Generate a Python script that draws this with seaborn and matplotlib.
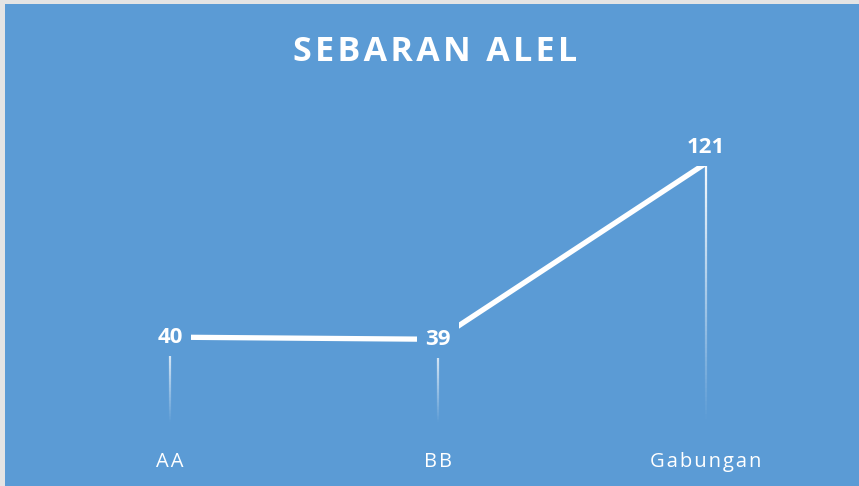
import numpy as np
import seaborn as sns
import matplotlib.pyplot as plt
from matplotlib.collections import LineCollection

categories = ["AA", "BB", "Gabungan"]
values = [40, 39, 121]
title = "SEBARAN ALEL"

bg = "#5b9bd5"


def spaced(s, sep="\u200a"):
    return sep.join(list(s))


def main():
    sns.set_theme(style="white")
    plt.rcParams['font.family'] = ['Open Sans', 'DejaVu Sans']

    fig = plt.figure(figsize=(8.59, 4.86), dpi=100, facecolor="#e4e4e4")
    ax = fig.add_axes([5 / 859, 0, 854 / 859, 482 / 486])
    ax.set_facecolor(bg)
    for s in ax.spines.values():
        s.set_visible(False)

    xs = np.arange(len(categories))

    # main line
    sns.lineplot(x=xs, y=values, ax=ax, color="white", linewidth=3.8,
                 solid_capstyle="butt", zorder=2)

    # fading drop lines from each point down to zero
    for x, v in zip(xs, values):
        ys = np.linspace(v, 0, 60)
        segs = [[(x, ys[i]), (x, ys[i + 1])] for i in range(len(ys) - 1)]
        alphas = np.linspace(0.95, 0.0, len(segs))
        cols = [(1, 1, 1, a) for a in alphas]
        ax.add_collection(LineCollection(segs, colors=cols, linewidths=1.6, zorder=1))

    # data labels with a box in the background colour
    box = dict(boxstyle="square,pad=0.36", facecolor=bg, edgecolor="none")
    for i, (x, v) in enumerate(zip(xs, values)):
        off = 11 if i == len(values) - 1 else 0
        ax.annotate(str(v), (x, v), xytext=(0, off), textcoords="offset points",
                    ha="center", va="center", color="white", fontsize=16,
                    fontweight="bold", bbox=box, zorder=3)

    # category labels
    for x, c in zip(xs, categories):
        ax.text(x, 0.05, spaced(c), transform=ax.get_xaxis_transform(),
                ha="center", va="center", color="white", fontsize=14.5)

    ax.text(0.504, 0.9, spaced(title), transform=ax.transAxes, ha="center",
            va="center", color="white", fontsize=24.5, fontweight="bold")

    ax.set_xlim(-0.616, 2.571)
    ax.set_ylim(-29.3, 195.1)
    ax.set_xticks([])
    ax.set_yticks([])

    plt.savefig("out.png", dpi=100, facecolor=fig.get_facecolor())
    plt.close()


if __name__ == "__main__":
    main()
